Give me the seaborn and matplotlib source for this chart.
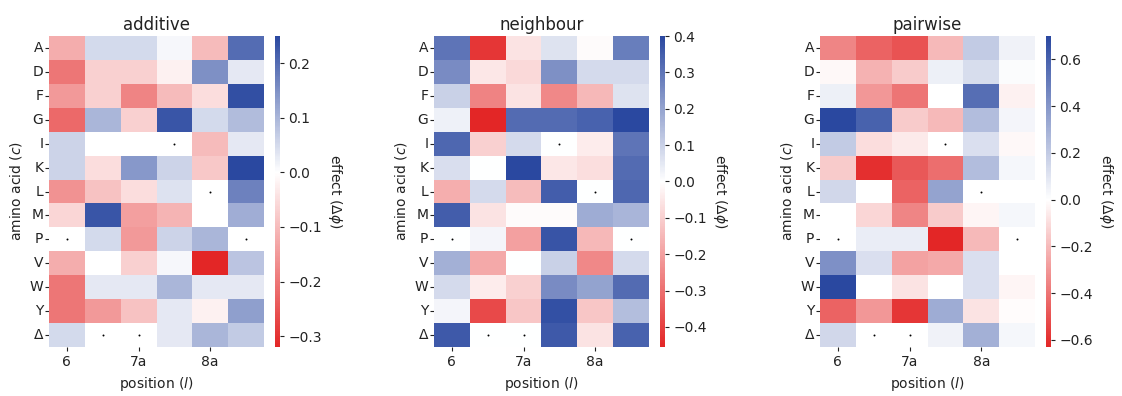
import matplotlib
matplotlib.use("Agg")
import matplotlib.pyplot as plt
import seaborn as sns
import pandas as pd
import numpy as np
from matplotlib.colors import LinearSegmentedColormap

# amino acids (rows) and sequence positions (columns)
amino_acids = ["A", "D", "F", "G", "I", "K", "L", "M", "P", "V", "W", "Y", "Δ"]
positions = ["6", "6b", "7a", "7b", "8a", "8b"]
tick_positions = ["6", "7a", "8a"]
wild_type = ["P", "Δ", "Δ", "I", "L", "P"]

additive = [
    [-0.12, 0.05, 0.05, 0.01, -0.10, 0.20],
    [-0.20, -0.07, -0.07, -0.02, 0.15, 0.03],
    [-0.15, -0.07, -0.18, -0.10, -0.05, 0.24],
    [-0.22, 0.10, -0.07, 0.23, 0.05, 0.09],
    [0.06, 0.00, 0.00, 0.00, -0.10, 0.03],
    [0.06, -0.05, 0.14, 0.06, -0.08, 0.25],
    [-0.16, -0.09, -0.05, 0.04, 0.00, 0.17],
    [-0.06, 0.23, -0.14, -0.11, 0.00, 0.11],
    [0.00, 0.05, -0.15, 0.06, 0.10, 0.00],
    [-0.12, 0.00, -0.07, 0.01, -0.32, 0.08],
    [-0.20, 0.03, 0.03, 0.10, 0.03, 0.03],
    [-0.20, -0.15, -0.09, 0.03, -0.02, 0.13],
    [0.05, 0.00, 0.00, 0.03, 0.10, 0.07],
]

neighbour = [
    [0.30, -0.42, -0.06, 0.06, -0.01, 0.28],
    [0.25, -0.05, -0.08, 0.24, 0.08, 0.08],
    [0.10, -0.26, -0.06, -0.25, -0.15, 0.06],
    [0.03, -0.455, 0.32, 0.32, 0.34, 0.40],
    [0.33, -0.10, 0.08, 0.00, -0.04, 0.30],
    [0.07, 0.00, 0.40, -0.05, -0.07, 0.32],
    [-0.17, 0.08, -0.14, 0.35, 0.00, 0.33],
    [0.35, -0.06, -0.01, -0.01, 0.18, 0.16],
    [0.00, 0.02, -0.20, 0.37, -0.15, 0.00],
    [0.17, -0.18, 0.00, 0.10, -0.25, 0.08],
    [0.08, -0.04, -0.10, 0.25, 0.20, 0.32],
    [0.02, -0.38, -0.12, 0.38, -0.12, 0.14],
    [0.36, 0.00, 0.00, 0.36, -0.06, 0.34],
]

pairwise = [
    [-0.35, -0.45, -0.50, -0.20, 0.20, 0.05],
    [-0.02, -0.22, -0.15, 0.06, 0.13, 0.01],
    [0.06, -0.30, -0.40, 0.00, 0.55, -0.04],
    [0.70, 0.60, -0.15, -0.20, 0.25, 0.04],
    [0.20, -0.10, -0.06, 0.00, 0.12, -0.02],
    [-0.15, -0.60, -0.48, -0.42, 0.25, 0.03],
    [0.15, 0.00, -0.45, 0.35, 0.00, 0.00],
    [0.00, -0.12, -0.35, -0.15, -0.03, 0.03],
    [0.00, 0.07, 0.07, -0.63, -0.20, 0.00],
    [0.42, 0.12, -0.27, -0.25, 0.12, 0.00],
    [0.70, 0.00, -0.08, 0.00, 0.12, -0.03],
    [-0.45, -0.30, -0.58, 0.32, -0.08, -0.01],
    [0.15, 0.00, 0.00, 0.05, 0.30, 0.03],
]

panels = [("additive", additive), ("neighbour", neighbour), ("pairwise", pairwise)]

sns.set_style("ticks")
plt.rcParams["font.family"] = ["DejaVu Sans"]
for key in ["text.color", "axes.labelcolor", "xtick.color", "ytick.color"]:
    plt.rcParams[key] = "#222222"

RED, WHITE, BLUE = "#e32626", "#ffffff", "#2a48a0"

fig = plt.figure(figsize=(11.22, 3.96), dpi=100)
W, H = 1122, 396
lefts = [49, 434, 820]
for (name, values), left in zip(panels, lefts):
    ax = fig.add_axes([left / W, 1 - 347 / H, 215 / W, 311 / H])
    cax = fig.add_axes([(left + 226) / W, 1 - 347 / H, 4.5 / W, 311 / H])
    df = pd.DataFrame(values, index=amino_acids, columns=positions)
    vmin, vmax = df.values.min(), df.values.max()
    # white sits at zero, both ends fully saturated
    frac = -vmin / (vmax - vmin)
    cmap = LinearSegmentedColormap.from_list(
        "rwb_" + name, [(0, RED), (frac, WHITE), (1, BLUE)])
    sns.heatmap(df, ax=ax, cbar_ax=cax, cmap=cmap, vmin=vmin, vmax=vmax)
    # wild-type markers
    xs = [positions.index(p) + 0.5 for p in positions]
    ys = [amino_acids.index(a) + 0.5 for a in wild_type]
    ax.scatter(xs, ys, s=2, color="black", marker="o", linewidths=0)
    ax.set_xticks([positions.index(p) + 0.5 for p in tick_positions])
    ax.set_xticklabels(tick_positions, rotation=0, fontsize=10)
    ax.set_yticklabels(amino_acids, rotation=0, fontsize=10)
    ax.tick_params(axis="both", length=3, width=0.8, pad=1)
    ax.tick_params(axis="x", pad=3)
    ax.set_title(name, fontsize=12, pad=4)
    ax.set_xlabel("position ($l$)", fontsize=10)
    ax.set_ylabel("amino acid ($c$)", fontsize=10)
    cax.tick_params(labelsize=10, length=3, width=0.8)
    cax.set_ylabel("effect ($\\Delta\\phi$)", rotation=270, labelpad=16, fontsize=10)

fig.savefig("out.png", dpi=100)
